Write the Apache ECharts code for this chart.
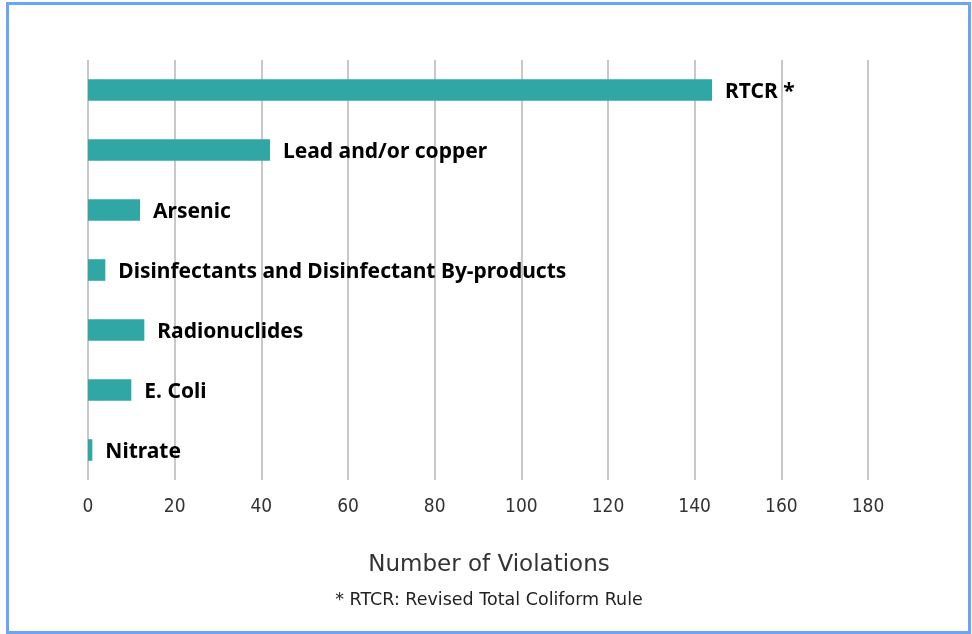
<!DOCTYPE html>
<html>
<head>
<meta charset="utf-8">
<script src="https://cdn.jsdelivr.net/npm/echarts@6/dist/echarts.min.js"></script>
<style>
html,body{margin:0;padding:0;background:#fff;}
#chart{width:972px;height:634px;}
</style>
</head>
<body>
<div id="chart"></div>
<script>
const categories = ["RTCR *", "Lead and/or copper", "Arsenic", "Disinfectants and Disinfectant By-products", "Radionuclides", "E. Coli", "Nitrate"];
const violations = [144, 42, 12, 4, 13, 10, 1];
const xTicks = [0, 20, 40, 60, 80, 100, 120, 140, 160, 180];
const axisTitle = "Number of Violations";
const footnote = "* RTCR: Revised Total Coliform Rule";

const chart = echarts.init(document.getElementById('chart'));
chart.setOption({
  animation: false,
  grid: {left: 88, right: 104, top: 60, bottom: 154},
  xAxis: {
    type: 'value',
    min: xTicks[0],
    max: xTicks[xTicks.length - 1],
    interval: xTicks[1] - xTicks[0],
    axisLine: {show: false},
    axisTick: {show: false},
    splitLine: {show: true, lineStyle: {color: '#c8c8c8', width: 2}},
    axisLabel: {
      color: '#333', fontSize: 19, margin: 18,
      fontFamily: '"Liberation Sans Narrow", "DejaVu Sans Condensed", sans-serif'
    }
  },
  yAxis: {
    type: 'category',
    data: categories,
    inverse: true,
    axisLine: {show: false},
    axisTick: {show: false},
    axisLabel: {show: false},
    splitLine: {show: false}
  },
  series: [{
    type: 'bar',
    data: violations,
    barWidth: '36%',
    itemStyle: {color: '#31a7a5'},
    label: {
      show: true,
      position: 'right',
      distance: 13,
      offset: [0, 2],
      formatter: p => p.name,
      color: '#000',
      fontSize: 21,
      fontWeight: 'bold',
      fontFamily: '"Noto Sans", sans-serif'
    }
  }],
  graphic: [
    {type: 'rect', shape: {x: 7.5, y: 3.5, width: 962, height: 629},
     style: {fill: 'none', stroke: '#6aa6f8', lineWidth: 3}},
    {type: 'text', x: 489, y: 565,
     style: {text: axisTitle, fill: '#333', fontSize: 23, align: 'center', verticalAlign: 'middle',
             fontFamily: '"DejaVu Sans", sans-serif'}},
    {type: 'text', x: 489, y: 600,
     style: {text: footnote, fill: '#222', fontSize: 17.5, align: 'center', verticalAlign: 'middle',
             fontFamily: '"DejaVu Sans", sans-serif'}}
  ]
});
</script>
</body>
</html>
